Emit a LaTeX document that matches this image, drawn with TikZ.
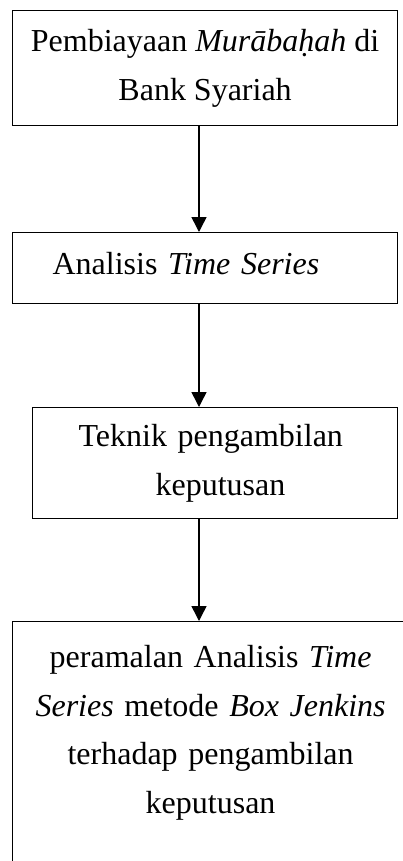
\documentclass[tikz,border=0pt]{standalone}
\usepackage{fontspec}
\setmainfont{Liberation Serif}
\usetikzlibrary{arrows.meta,positioning}

\tikzset{
  box/.style={draw,line width=1.2bp,rectangle,inner sep=0pt,anchor=north west,
    font=\fontsize{32bp}{48.5bp}\selectfont},
  flow/.style={line width=1.5bp,-{Triangle[width=15bp,length=15bp]}}
}

\begin{document}
\begin{tikzpicture}[x=1bp,y=-1bp]
	\useasboundingbox (0,0) rectangle (402,861);

	\node[box,minimum width=385bp,minimum height=115bp,align=center] (bank) at (12,10)
		{Pembiayaan \textit{Murābaḥah} di\\Bank Syariah};
	\node[box,minimum height=71bp,text width=305bp,inner xsep=40bp,text depth=10bp,align=left] (ts) at (12,232)
		{Analisis \textit{Time Series}};
	\node[box,minimum height=111bp,text width=273bp,inner xsep=46bp,align=left] (teknik) at (32,407)
		{Teknik pengambilan\\\hspace*{77bp}keputusan};
	\node[box,text width=396bp,inner ysep=24bp,text depth=260bp,align=center] (bj) at (12,621)
		{peramalan Analisis \textit{Time}\\\textit{Series} metode \textit{Box Jenkins}\\terhadap pengambilan\\keputusan};

	% arrows
	\coordinate (ax) at (199,0);
	\draw[flow] (bank.south -| ax) -- (ts.north -| ax);
	\draw[flow] (ts.south -| ax) -- (teknik.north -| ax);
	\draw[flow] (teknik.south -| ax) -- (bj.north -| ax);

\end{tikzpicture}
\end{document}
